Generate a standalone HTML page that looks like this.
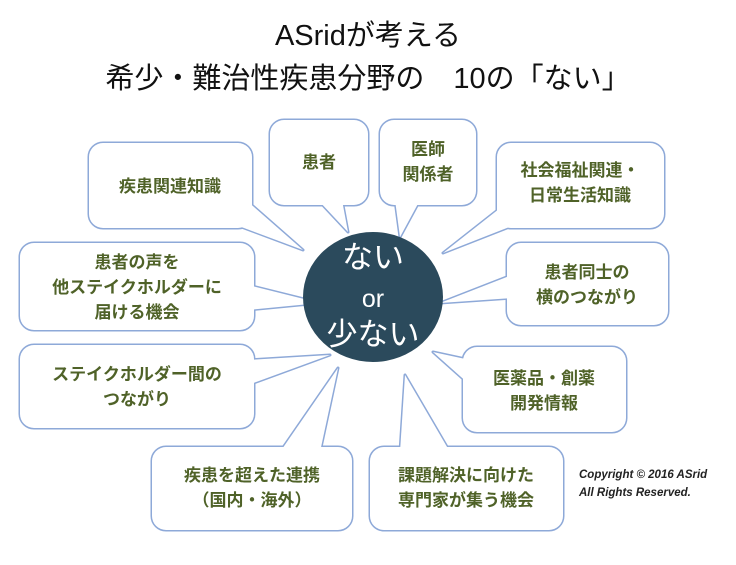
<!DOCTYPE html>
<html><head><meta charset="utf-8"><style>
body{margin:0;background:#fff;}
svg text{font-family:"Liberation Sans","Noto Sans CJK JP",sans-serif;}
.t{fill:#4f6228;font-size:17px;text-anchor:middle;font-weight:bold}
</style></head><body>
<svg width="736" height="560" viewBox="0 0 736 560" xmlns="http://www.w3.org/2000/svg">
<defs>
<g id="shapes">
<polygon points="228,222 246,200 303,250"/>
<polygon points="318,200 342,200 348,232"/>
<polygon points="395,200 420,200 400,237"/>
<polygon points="522,222 504,205 443,253"/>
<polygon points="248,285 248,310 320,303"/>
<polygon points="512,275 512,298 440,303"/>
<polygon points="248,360 248,385 330,355"/>
<polygon points="470,360 470,385 433,352"/>
<polygon points="280,452 320,452 338,368"/>
<polygon points="400,452 450,452 405,375"/>
<rect x="89" y="143" width="163" height="85" rx="14"/>
<rect x="270" y="120" width="98" height="85" rx="14"/>
<rect x="380" y="120" width="96" height="85" rx="14"/>
<rect x="497" y="143" width="167" height="85" rx="14"/>
<rect x="20" y="243" width="234" height="87" rx="14"/>
<rect x="507" y="243" width="161" height="82" rx="14"/>
<rect x="20" y="345" width="234" height="83" rx="14"/>
<rect x="463" y="347" width="163" height="85" rx="14"/>
<rect x="152" y="447" width="200" height="83" rx="14"/>
<rect x="370" y="447" width="193" height="83" rx="14"/>
</g>
</defs>
<text x="368" y="45" font-size="29" text-anchor="middle" fill="#111">ASridが考える</text>
<text x="368" y="88" font-size="29" text-anchor="middle" fill="#111">希少・難治性疾患分野の　10の「ない」</text>
<use href="#shapes" fill="#8ea9d8" stroke="#8ea9d8" stroke-width="3" stroke-linejoin="round"/>
<use href="#shapes" fill="#fff" stroke="none"/>
<ellipse cx="373" cy="297" rx="70" ry="65" fill="#2b4a5c"/>
<text x="373" y="268" font-size="31" fill="#fff" text-anchor="middle">ない</text>
<text x="373" y="307" font-size="25" fill="#fff" text-anchor="middle">or</text>
<text x="373" y="345" font-size="31" fill="#fff" text-anchor="middle">少ない</text>
<text class="t" x="170" y="192">疾患関連知識</text>
<text class="t" x="319" y="168">患者</text>
<text class="t" x="428" y="155">医師</text>
<text class="t" x="428" y="180">関係者</text>
<text class="t" x="580" y="176">社会福祉関連・</text>
<text class="t" x="580" y="201">日常生活知識</text>
<text class="t" x="137" y="268">患者の声を</text>
<text class="t" x="137" y="293">他ステイクホルダーに</text>
<text class="t" x="137" y="318">届ける機会</text>
<text class="t" x="587" y="278">患者同士の</text>
<text class="t" x="587" y="303">横のつながり</text>
<text class="t" x="137" y="380">ステイクホルダー間の</text>
<text class="t" x="137" y="405">つながり</text>
<text class="t" x="544" y="384">医薬品・創薬</text>
<text class="t" x="544" y="409">開発情報</text>
<text class="t" x="252" y="481">疾患を超えた連携</text>
<text class="t" x="252" y="506">（国内・海外）</text>
<text class="t" x="466" y="481">課題解決に向けた</text>
<text class="t" x="466" y="506">専門家が集う機会</text>
<text x="579" y="478" font-size="11.5" font-style="italic" font-weight="bold" fill="#222">Copyright © 2016 ASrid</text>
<text x="579" y="496" font-size="11.5" font-style="italic" font-weight="bold" fill="#222">All Rights Reserved.</text>
</svg>
</body></html>
